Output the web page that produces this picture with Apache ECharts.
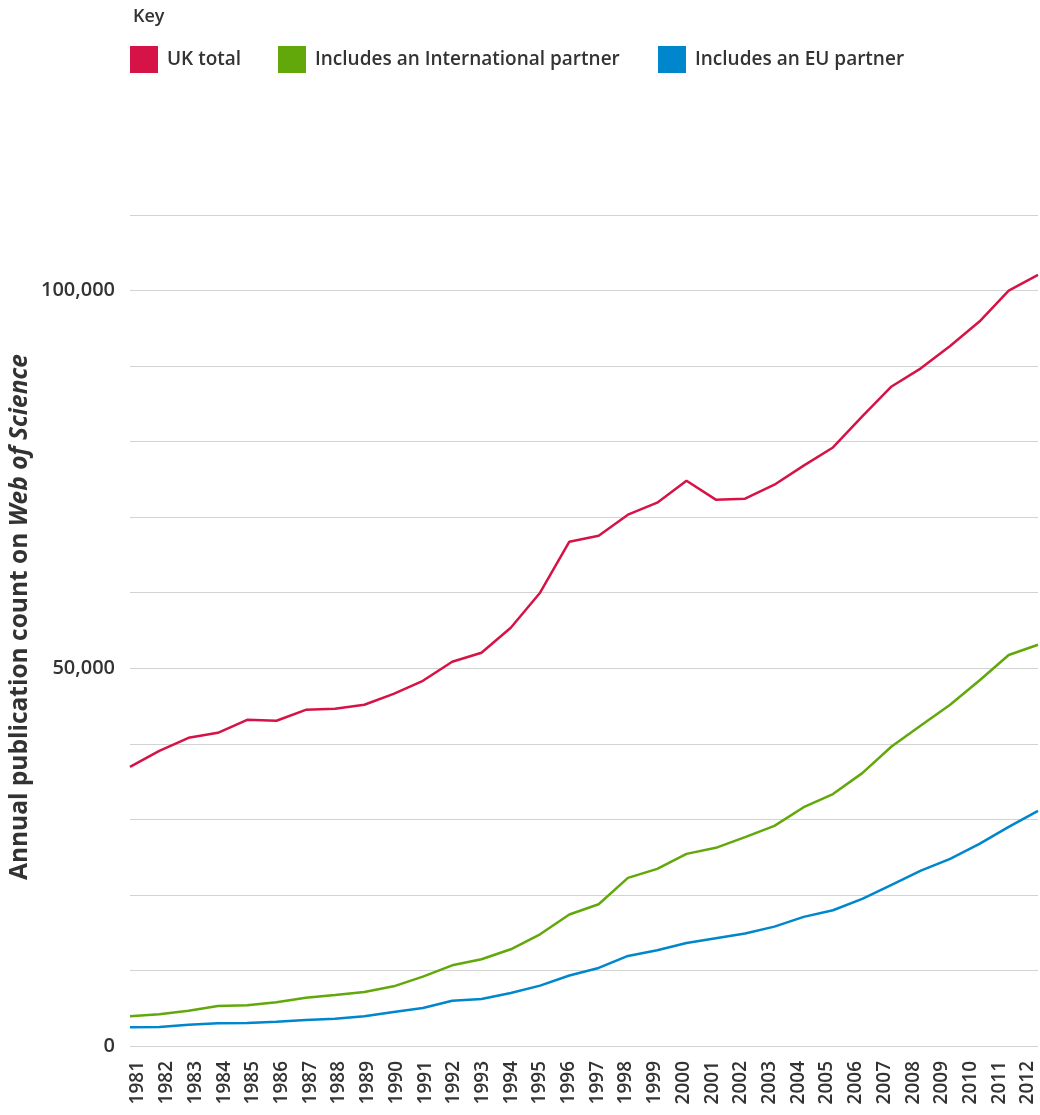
<!DOCTYPE html>
<html>
<head>
<meta charset="utf-8">
<script src="https://cdn.jsdelivr.net/npm/echarts@6/dist/echarts.min.js"></script>
<style>
html,body{margin:0;padding:0;background:#fff;overflow:hidden;}
#chart{width:1040px;height:1115px;}
</style>
</head>
<body>
<div id="chart"></div>
<script>
const years = ['1981','1982','1983','1984','1985','1986','1987','1988','1989','1990','1991','1992','1993','1994','1995','1996','1997','1998','1999','2000','2001','2002','2003','2004','2005','2006','2007','2008','2009','2010','2011','2012'];
const ukTotal = [36950,39070,40800,41460,43180,43050,44500,44640,45170,46620,48340,50860,52050,55360,60000,66750,67550,70330,71920,74830,72320,72450,74300,76820,79230,83330,87300,89700,92670,95900,100000,102080];
const intlPartner = [3930,4200,4680,5300,5390,5780,6400,6750,7150,7900,9180,10680,11480,12800,14790,17400,18770,22250,23440,25430,26230,27640,29140,31610,33350,36120,39640,42430,45170,48390,51750,53110];
const euPartner = [2470,2520,2820,3000,3050,3220,3440,3620,3930,4500,5030,6000,6230,7020,7990,9330,10330,11920,12670,13640,14260,14880,15800,17090,17970,19470,21320,23220,24770,26750,29010,31130];
const seriesNames = ['UK total','Includes an International partner','Includes an EU partner'];
const colors = ['#D51346','#62A80A','#0086CC'];

const FONT = '"Open Sans", Lato, sans-serif';
const TXT = '#333333';
const W = 600;

const chart = echarts.init(document.getElementById('chart'), null, {renderer:'canvas', width:1040, height:1115});
const legendLefts = [130, 278, 658];
const option = {
  animation: false,
  backgroundColor: '#ffffff',
  title: {
    text: 'Key', left: 128, top: 3,
    textStyle: {fontFamily: FONT, fontWeight: W, fontSize: 18, color: TXT}
  },
  legend: seriesNames.map((n, i) => ({
    data: [{name: n, icon: 'rect'}],
    left: legendLefts[i], top: 46,
    itemWidth: 28, itemHeight: 27, itemGap: 0,
    padding: 0,
    textStyle: {fontFamily: FONT, fontWeight: W, fontSize: 19, color: TXT, padding: [0,0,0,4]},
    selectedMode: false
  })),
  graphic: [{
    type: 'text',
    x: 20, y: 617,
    rotation: Math.PI / 2,
    style: {
      text: '{a|Annual publication count on }{b|Web of Science}',
      align: 'center', verticalAlign: 'middle',
      rich: {
        a: {fontFamily: FONT, fontWeight: 'bold', fontSize: 24.5, fill: TXT, color: TXT},
        b: {fontFamily: FONT, fontWeight: 'bold', fontStyle: 'italic', fontSize: 24.5, fill: TXT, color: TXT}
      }
    }
  }],
  grid: [
    {left: 130, width: 908, top: 215, height: 831, containLabel: false, outerBoundsMode: 'none'},
    {left: 138, width: 890, top: 215, height: 831, containLabel: false, outerBoundsMode: 'none'}
  ],
  xAxis: [{
    type: 'category', data: years, boundaryGap: false, gridIndex: 0,
    axisLine: {show: false}, axisTick: {show: false}, axisLabel: {show: false}
  }, {
    type: 'category', data: years, boundaryGap: false, gridIndex: 1,
    axisLine: {show: false}, axisTick: {show: false}, splitLine: {show: false},
    axisLabel: {rotate: 90, margin: 15, interval: 0, fontFamily: FONT, fontWeight: W, fontSize: 19, color: TXT}
  }],
  yAxis: [{
    type: 'value', min: 0, max: 110000, interval: 10000, gridIndex: 0,
    axisLine: {show: false}, axisTick: {show: false},
    splitLine: {lineStyle: {color: '#d3d3d3', width: 1}},
    axisLabel: {
      margin: 15, fontFamily: FONT, fontWeight: W, fontSize: 20, color: TXT,
      formatter: v => (v % 50000 === 0 ? v.toLocaleString('en-US') : '')
    }
  }, {
    type: 'value', min: 0, max: 110000, interval: 10000, gridIndex: 1, show: false,
    splitLine: {show: false}
  }],
  series: [ukTotal, intlPartner, euPartner].map((d, i) => ({
    name: seriesNames[i], type: 'line', data: d,
    xAxisIndex: 0, yAxisIndex: 0,
    showSymbol: false, symbol: 'none',
    lineStyle: {color: colors[i], width: 2.5},
    itemStyle: {color: colors[i]},
    z: 3 - i
  }))
};
chart.setOption(option);
</script>
</body>
</html>
